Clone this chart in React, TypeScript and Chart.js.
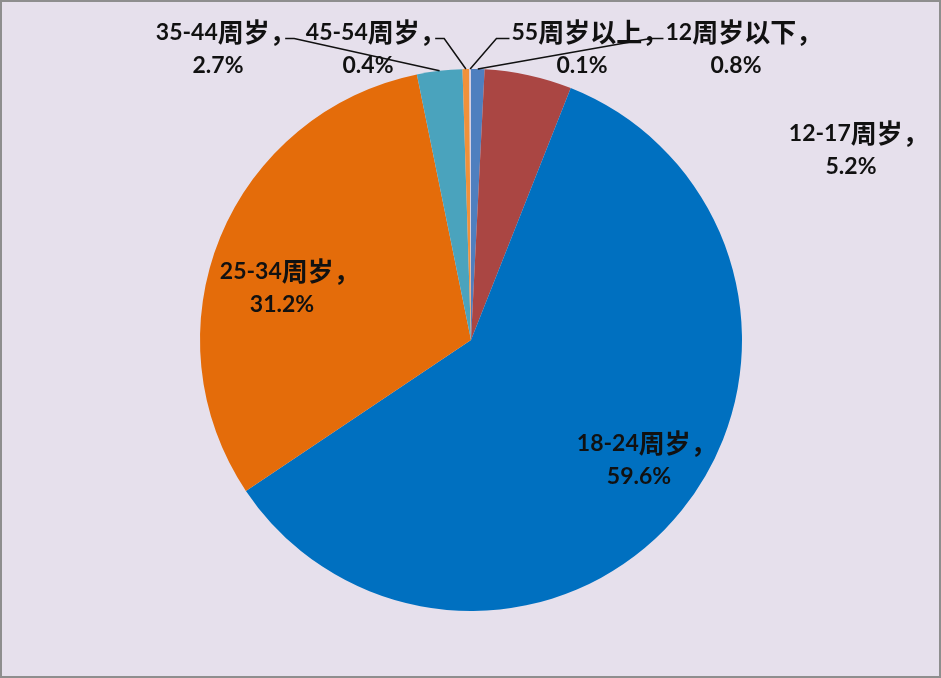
import { useEffect, useRef } from 'react'
import { Chart, registerables } from 'chart.js'
import type { Plugin } from 'chart.js'

Chart.register(...registerables)

const categories = ['12周岁以下', '12-17周岁', '18-24周岁', '25-34周岁', '35-44周岁', '45-54周岁', '55周岁以上']
const shares = [0.8, 5.2, 59.6, 31.2, 2.7, 0.4, 0.1]
const sliceColors = ['#4f7fbf', '#aa4643', '#0070c0', '#e46c0a', '#4aa3bd', '#f0913a', '#d6cfe2']

// where each label block sits, relative to the pie centre, and where its leader leaves from
const labelOffsets: [number, number][] = [
  [265, -291], [380, -190], [168, 120], [-189, -52], [-253, -291], [-103, -291], [111, -291],
]
const leaderSide = ['left', 'none', 'none', 'none', 'right', 'right', 'left']

const LATIN_SIZE = 23
const CJK_SIZE = 26
const LATIN_FONT = `bold ${LATIN_SIZE}px Lato, sans-serif`
const CJK_FONT = `bold ${CJK_SIZE}px "Noto Sans CJK SC", sans-serif`
const LINE_H = 33

// split into latin / CJK runs so the Chinese glyphs can be a touch bigger, like the original
function runs(text: string) {
  const out: { s: string; cjk: boolean }[] = []
  for (const ch of text) {
    const cjk = ch.charCodeAt(0) > 0x2000
    const last = out[out.length - 1]
    if (last && last.cjk === cjk) last.s += ch
    else out.push({ s: ch, cjk })
  }
  return out
}

// draws the text centred on what is actually inked (the full-width comma leaves a blank tail)
function drawMixed(ctx: CanvasRenderingContext2D, text: string, cx: number, cy: number) {
  const parts = runs(text).map(r => {
    ctx.font = r.cjk ? CJK_FONT : LATIN_FONT
    return { ...r, w: ctx.measureText(r.s).width }
  })
  const total = parts.reduce((a, p) => a + p.w, 0)
  const inked = text.endsWith('，') ? total - CJK_SIZE * 0.6 : total
  let x = cx - inked / 2
  ctx.textAlign = 'left'
  for (const p of parts) {
    ctx.font = p.cjk ? CJK_FONT : LATIN_FONT
    ctx.fillText(p.s, x, cy)
    x += p.w
  }
  return inked
}

const labelPlugin: Plugin<'pie'> = {
  id: 'excelLabels',
  afterDatasetsDraw(chart) {
    const ctx = chart.ctx
    const meta = chart.getDatasetMeta(0)
    ctx.save()
    ctx.fillStyle = '#111'
    ctx.strokeStyle = '#111'
    ctx.lineWidth = 1.5
    ctx.textBaseline = 'middle'
    meta.data.forEach((el: any, i) => {
      const { x, y, startAngle, endAngle, outerRadius } = el.getProps(['x', 'y', 'startAngle', 'endAngle', 'outerRadius'], true)
      const [ox, oy] = labelOffsets[i]
      const lx = x + ox
      const ly = y + oy
      const y1 = ly - LINE_H / 2
      const w = drawMixed(ctx, `${categories[i]}，`, lx, y1)
      drawMixed(ctx, `${shares[i]}%`, lx, ly + LINE_H / 2)

      const side = leaderSide[i]
      if (side === 'none') return
      const mid = (startAngle + endAngle) / 2
      const ex = x + Math.cos(mid) * outerRadius
      const ey = y + Math.sin(mid) * outerRadius
      const sy = y1 + 6
      ctx.beginPath()
      if (side === 'right') {
        const sx = lx + w / 2 + 5
        ctx.moveTo(sx, sy)
        ctx.lineTo(sx + 9, sy)
      } else {
        const sx = lx - w / 2 - 2
        ctx.moveTo(sx, sy)
        ctx.lineTo(sx - 13, sy)
      }
      ctx.lineTo(ex, ey)
      ctx.stroke()
    })
    ctx.restore()
  },
}

export default function App() {
  const canvasRef = useRef<HTMLCanvasElement>(null)
  const chartRef = useRef<Chart<'pie'> | null>(null)

  useEffect(() => {
    document.body.style.margin = '0'
    if (!canvasRef.current) return
    chartRef.current?.destroy()

    chartRef.current = new Chart(canvasRef.current, {
      type: 'pie',
      data: {
        labels: categories,
        datasets: [
          {
            data: shares,
            backgroundColor: sliceColors,
            borderWidth: 0,
          },
        ],
      },
      options: {
        responsive: true,
        maintainAspectRatio: false,
        animation: false,
        radius: 271,
        layout: { padding: { top: 67, bottom: 65, left: 198, right: 197 } },
        plugins: {
          legend: { display: false },
          tooltip: { enabled: false },
        },
      },
      plugins: [labelPlugin],
    })

    return () => chartRef.current?.destroy()
  }, [])

  return (
    <div
      style={{
        width: 941,
        height: 678,
        boxSizing: 'border-box',
        border: '2px solid #8e8e8e',
        background: '#e6e0ec',
      }}
    >
      <div style={{ position: 'relative', width: 937, height: 674 }}>
        <canvas ref={canvasRef} />
      </div>
    </div>
  )
}
